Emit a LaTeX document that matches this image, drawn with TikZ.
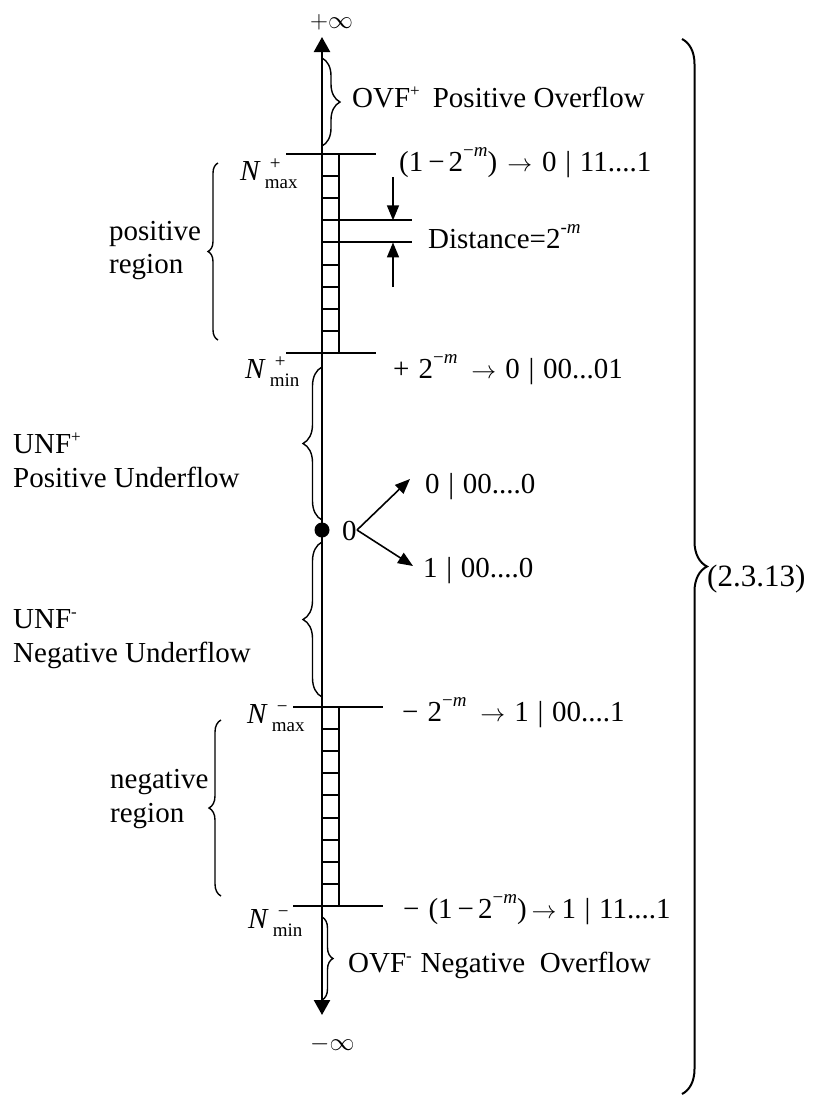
\documentclass[tikz,border=0pt]{standalone}
\usepackage{fontspec}
\setmainfont{Liberation Serif}
\usetikzlibrary{arrows.meta,decorations.pathreplacing}
\newcommand{\sps}[1]{\raisebox{0.36em}{\fontsize{17}{17}\selectfont #1}}
\newcommand{\msp}[1]{\raisebox{0.5em}{\fontsize{19}{19}\selectfont #1}}
\newcommand{\Nl}[2]{\textit{N}\kern4pt\raisebox{-8pt}{\fontsize{19}{19}\selectfont\makebox[0pt][l]{\hspace{5pt}\raisebox{19pt}{#1}}#2}}
\newcommand{\myarr}[2]{\hspace{#1}$\rightarrow$\hspace{#2}}
\newcommand{\mybar}{\hspace{0.3em}|\hspace{0.3em}}
\newcommand{\bmin}{\hspace{5pt}−\hspace{4pt}}
\begin{document}
\begin{tikzpicture}[x=1pt,y=-1pt,
  txt/.style={anchor=base west,inner sep=0pt,font=\fontsize{29}{34}\selectfont},
  axisline/.style={line width=2.4pt},
  rung/.style={line width=2pt},
  tickline/.style={line width=2pt},
  brc/.style={decorate,decoration={brace,amplitude=#1},line width=1.4pt},
  bigtip/.style={{Triangle[length=15pt,width=16pt]}-{Triangle[length=15pt,width=16pt]}},
  smalltip/.style={-{Triangle[length=15pt,width=12pt]},line width=1.6pt}
]
\useasboundingbox (0,0) rectangle (812,1096);
% axis
\coordinate (top) at (322,37);
\coordinate (bot) at (322,1015);
\draw[axisline,bigtip] (bot) -- (top);
% ladders
\coordinate (lpA) at (322,154);
\coordinate (lpB) at (339,353);
\coordinate (lnA) at (322,707);
\coordinate (lnB) at (339,906);
\draw[rung] (lpA) rectangle (lpB);
\draw[rung] (lnA) rectangle (lnB);
\foreach \k in {1,...,8}{
  \draw[rung] (322,154+\k*22.11) -- (339,154+\k*22.11);
  \draw[rung] (322,707+\k*22.11) -- (339,707+\k*22.11);
}
% tick lines
\draw[tickline] (286,154) -- (376,154);
\draw[tickline] (286,353) -- (376,353);
\draw[tickline] (293,707) -- (383,707);
\draw[tickline] (293,906) -- (383,906);
% distance marks
\coordinate (dA) at (339,220.33);
\coordinate (dB) at (339,242.44);
\draw[tickline] (dA) -- (412,220.33);
\draw[tickline] (dB) -- (412,242.44);
\coordinate (daS) at (393,177);
\coordinate (daE) at (393,220.33);
\coordinate (dbS) at (393,287);
\coordinate (dbE) at (393,242.44);
\draw[smalltip] (daS) -- (daE);
\draw[smalltip] (dbS) -- (dbE);
% zero
\fill (322,530) circle (7.5pt);
\coordinate (zs) at (357,530);
\coordinate (zu) at (410,479);
\coordinate (zd) at (413,566);
\draw[smalltip] (zs) -- (zu);
\draw[smalltip] (zs) -- (zd);
% braces
\draw[brc=18pt] (322,58) -- (322,146);
\draw[brc=10pt] (218,340) -- (218,163);
\draw[brc=19pt] (322,520) -- (322,367);
\draw[brc=19pt] (322,697) -- (322,542);
\draw[brc=12pt] (221,896) -- (221,720);
\draw[brc=11pt] (322,917) -- (322,1000);
\draw[decorate,decoration={brace,amplitude=25pt},line width=2pt] (682,39) -- (682,1094);
% texts
\node[txt,font=\fontsize{27}{30}\selectfont] (pinf) at (310,28) {$+\infty$};
\node[txt] (ovfp) at (352,107) {OVF\sps{+}\hspace{0.45em}Positive Overflow};
\node[txt] (nmaxp) at (240,180) {\Nl{+}{max}};
\node[txt] (vmaxp) at (399,171) {(1\bmin 2\msp{−\textit{m}})\myarr{10pt}{10pt}0\mybar 11....1};
\node[txt] (dist) at (428,248) {Distance=2\msp{-\textit{m}}};
\node[txt] (posA) at (109,240) {positive};
\node[txt] (posB) at (109,273) {region};
\node[txt] (nminp) at (245,378) {\Nl{+}{min}};
\node[txt] (vminp) at (393,378) {+\hspace{9pt}2\msp{−\textit{m}}\myarr{14pt}{9pt}0\mybar 00...01};
\node[txt] (unfp) at (13,453) {UNF\sps{+}};
\node[txt] (unfpB) at (13,487) {Positive Underflow};
\node[txt] (zero) at (342,540) {0};
\node[txt] (zp) at (425,493) {0\mybar 00....0};
\node[txt] (zn) at (423,577) {1\mybar 00....0};
\node[txt] (unfn) at (13,628) {UNF\sps{-}};
\node[txt] (unfnB) at (13,662) {Negative Underflow};
\node[txt] (nmaxn) at (247,723) {\Nl{−}{max}};
\node[txt] (vmaxn) at (402,721) {−\hspace{9pt}2\msp{−\textit{m}}\myarr{14pt}{9pt}1\mybar 00....1};
\node[txt] (negA) at (110,788) {negative};
\node[txt] (negB) at (110,822) {region};
\node[txt] (nminn) at (248,928) {\Nl{−}{min}};
\node[txt] (vminn) at (403,918) {−\hspace{9pt}(1\bmin 2\msp{−\textit{m}})\myarr{5pt}{5pt}1\mybar 11....1};
\node[txt] (ovfn) at (348,972) {OVF\sps{-}\hspace{0.3em}Negative\hspace{0.5em}Overflow};
\node[txt,font=\fontsize{27}{30}\selectfont] (minf) at (310,1050) {$-\infty$};
\node[txt,font=\fontsize{31}{36}\selectfont] (eq) at (707,586) {(2.3.13)};
\end{tikzpicture}
\end{document}
